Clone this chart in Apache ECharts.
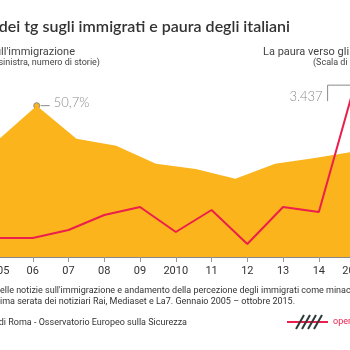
<!DOCTYPE html>
<html>
<head>
<meta charset="utf-8">
<script src="https://cdn.jsdelivr.net/npm/echarts@6/dist/echarts.min.js"></script>
<style>
  html, body { margin: 0; padding: 0; background: #fff; overflow: hidden; }
  #chart { width: 350px; height: 350px; }
</style>
</head>
<body>
<div id="chart"></div>
<script>
// anni sull'asse x
var anni = ['2005', '06', '07', '08', '09', '2010', '11', '12', '13', '14', '2015']
// numero di storie sull'immigrazione (scala di sinistra)
var notizie = [380, 380, 540, 840, 1000, 500, 940, 260, 1000, 900, 3437]
// rilevazioni della paura verso gli immigrati (scala di destra, %)
var rilevazioni = ['r1', 'r2', 'r3', 'r4', 'r5', 'r6', 'r7', 'r8', 'r9', 'r10']
var paura = [38.9, 50.7, 39.6, 37.3, 31.2, 29.5, 26.2, 31.2, 33.2, 35.3]

var giallo = '#FBB41C'
var rosso = '#EC1F4C'
var grigio = '#8a8a8a'

var myChart = echarts.init(document.getElementById('chart'))

// larghezza del testo tagliato a sinistra
function larghezza(testo, font) {
    var ctx = document.createElement('canvas').getContext('2d')
    ctx.font = font
    return ctx.measureText(testo).width
}

var fontNota = '9px Roboto'
var prefisso = 'Andamento d'
var option = {
    animation: false,
    grid: {
        left: -3,
        right: -4.6,
        top: 57,
        bottom: 93,
        containLabel: false,
        outerBoundsMode: 'none'
    },
    xAxis: [
        {
            type: 'category',
            data: anni,
            boundaryGap: false,
            axisLine: { lineStyle: { color: '#888', width: 1 } },
            axisTick: { show: true, length: 5, lineStyle: { color: '#999' } },
            axisLabel: {
                interval: 0,
                margin: 9,
                fontSize: 11,
                color: '#333',
                fontFamily: 'Roboto'
            },
            splitLine: { show: false },
            z: 10
        },
        {
            type: 'category',
            data: rilevazioni,
            boundaryGap: false,
            show: false
        }
    ],
    yAxis: [
        { type: 'value', min: 0, max: 4000, show: false, splitLine: { show: false } },
        { type: 'value', min: 0, max: 67, show: false, splitLine: { show: false } }
    ],
    series: [
        {
            name: 'La paura verso gli immigrati',
            type: 'line',
            xAxisIndex: 1,
            yAxisIndex: 1,
            data: paura,
            symbol: 'none',
            lineStyle: { width: 0 },
            itemStyle: { color: giallo },
            areaStyle: { color: giallo, opacity: 1 },
            z: 1
        },
        {
            name: "Le notizie sull'immigrazione",
            type: 'line',
            data: notizie,
            symbol: 'none',
            lineStyle: { width: 2, color: rosso },
            itemStyle: { color: rosso },
            z: 3
        }
    ]
}
myChart.setOption(option)

// annotazioni e testi
var pPicco = myChart.convertToPixel({ seriesIndex: 0 }, [1, paura[1]])
var pMax = myChart.convertToPixel({ seriesIndex: 1 }, [10, notizie[10]])

var testi = [
    { x: 290, y: 27, text: 'Le notizie dei tg sugli immigrati e paura degli italiani', align: 'right', font: '600 16px Lato', fill: '#333' },
    { x: 75, y: 52, text: "Le notizie sull'immigrazione", align: 'right', font: '11px Roboto', fill: '#444' },
    { x: 100, y: 63, text: '(Scala di sinistra, numero di storie)', align: 'right', font: '9px Roboto', fill: '#444' },
    { x: 263, y: 52, text: 'La paura verso gli immigrati', align: 'left', font: '11px Roboto', fill: '#444' },
    { x: 313, y: 63, text: '(Scala di destra, %)', align: 'left', font: '9px Roboto', fill: '#444' },
    { x: -larghezza(prefisso, fontNota), y: 291, text: prefisso + "elle notizie sull'immigrazione e andamento della percezione degli immigrati come minaccia", align: 'left', font: fontNota, fill: '#333' },
    { x: 295, y: 302, text: 'Edizioni di prima serata dei notiziari Rai, Mediaset e La7. Gennaio 2005 \u2013 ottobre 2015.', align: 'right', font: fontNota, fill: '#333' },
    { x: 187, y: 323, text: 'Fonte: Università di Roma - Osservatorio Europeo sulla Sicurezza', align: 'right', font: fontNota, fill: '#333' },
    { x: 333, y: 322, text: 'openpolis', align: 'left', font: '9px Roboto', fill: rosso }
]

var grafica = testi.map(function (t) {
    return {
        type: 'text',
        x: t.x,
        y: t.y,
        style: { text: t.text, font: t.font, fill: t.fill, align: t.align, verticalAlign: 'middle' }
    }
})

// picco 50,7%
grafica.push({
    type: 'circle',
    shape: { cx: pPicco[0], cy: pPicco[1], r: 3 },
    style: { fill: giallo, stroke: grigio, lineWidth: 1 }
})
grafica.push({
    type: 'line',
    shape: { x1: pPicco[0] + 4, y1: pPicco[1], x2: pPicco[0] + 13, y2: pPicco[1] },
    style: { stroke: grigio, lineWidth: 1 }
})
grafica.push({
    type: 'text',
    x: pPicco[0] + 17,
    y: pPicco[1] - 3,
    style: { text: '50,7%', font: '300 13px Lato', fill: grigio, align: 'left', verticalAlign: 'middle' }
})

// massimo 3.437
grafica.push({
    type: 'polyline',
    shape: { points: [[pMax[0] - 27, pMax[1] + 16], [pMax[0] - 27, pMax[1]], [pMax[0], pMax[1]]] },
    style: { stroke: grigio, lineWidth: 1, fill: null }
})
grafica.push({
    type: 'text',
    x: pMax[0] - 32,
    y: pMax[1] + 12,
    style: { text: '3.437', font: '300 13px Lato', fill: grigio, align: 'right', verticalAlign: 'middle' }
})

// logo
grafica.push({
    type: 'line',
    shape: { x1: 287, y1: 322, x2: 328, y2: 322 },
    style: { stroke: rosso, lineWidth: 2 }
})
;[296, 302, 308, 314].forEach(function (x) {
    grafica.push({
        type: 'line',
        shape: { x1: x, y1: 329, x2: x + 8, y2: 315 },
        style: { stroke: '#2d3a3a', lineWidth: 2 }
    })
})

myChart.setOption({ graphic: grafica })

window.addEventListener('resize', function () {
    myChart.resize()
})
</script>
</body>
</html>
